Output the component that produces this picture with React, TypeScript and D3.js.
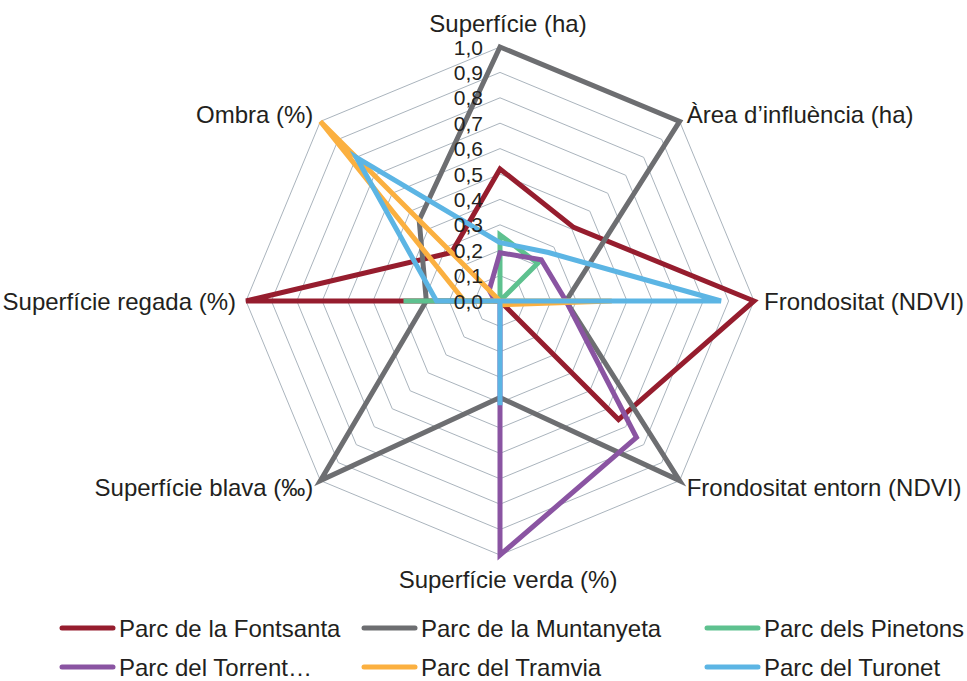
import * as d3 from 'd3';
import React, { useEffect, useRef } from 'react';

const axes = [
  'Superfície (ha)',
  'Àrea d’influència (ha)',
  'Frondositat (NDVI)',
  'Frondositat entorn (NDVI)',
  'Superfície verda (%)',
  'Superfície blava (‰)',
  'Superfície regada (%)',
  'Ombra (%)',
];

const seriesNames = [
  'Parc de la Fontsanta',
  'Parc de la Muntanyeta',
  'Parc dels Pinetons',
  'Parc del Torrent…',
  'Parc del Tramvia',
  'Parc del Turonet',
];

const fontsanta = [0.52, 0.41, 1.0, 0.66, 0.0, 0.0, 1.0, 0.27];
const muntanyeta = [1.0, 1.0, 0.26, 1.0, 0.38, 1.0, 0.29, 0.45];
const pinetons = [0.26, 0.21, 0.0, 0.0, 0.0, 0.0, 0.38, 0.0];
const torrent = [0.19, 0.23, 0.26, 0.76, 1.0, 0.0, 0.02, 0.06];
const tramvia = [0.0, 0.0, 0.44, 0.02, 0.0, 0.0, 0.14, 1.0];
const turonet = [0.23, 0.27, 0.87, 0.0, 0.41, 0.0, 0.25, 0.8];

const tickValues = [0, 0.1, 0.2, 0.3, 0.4, 0.5, 0.6, 0.7, 0.8, 0.9, 1.0];
const tickLabels = ['0,0', '0,1', '0,2', '0,3', '0,4', '0,5', '0,6', '0,7', '0,8', '0,9', '1,0'];

const colors = ['#961d2e', '#6d6e71', '#5ec18f', '#8a54a2', '#fbb040', '#5cb5e4'];

const FONT = '"Liberation Sans", Arial, Helvetica, sans-serif';

export default function App() {
  const svgRef = useRef(null);
  const width = 967;
  const height = 681;

  useEffect(() => {
    const svg = d3.select(svgRef.current);
    svg.selectAll('*').remove();

    const cx = 500;
    const cy = 301;
    const R = 254;
    const values = [fontsanta, muntanyeta, pinetons, torrent, tramvia, turonet];

    const r = d3.scaleLinear().domain([0, 1]).range([0, R]);
    const angle = d3
      .scaleLinear()
      .domain([0, axes.length])
      .range([0, 2 * Math.PI]);

    const g = svg.append('g').attr('transform', `translate(${cx},${cy})`);

    const radial = d3
      .lineRadial()
      .angle((d, i) => angle(i))
      .radius((d) => r(d))
      .curve(d3.curveLinearClosed);

    // grid rings
    g.selectAll('.ring')
      .data(tickValues.slice(1))
      .enter()
      .append('path')
      .attr('class', 'ring')
      .attr('d', (v) => radial(axes.map(() => v)))
      .attr('fill', 'none')
      .attr('stroke', '#aab4bd')
      .attr('stroke-width', 1);

    // series
    g.selectAll('.series')
      .data(values)
      .enter()
      .append('path')
      .attr('class', 'series')
      .attr('d', (d) => radial(d))
      .attr('fill', 'none')
      .attr('stroke', (d, i) => colors[i])
      .attr('stroke-width', 5)
      .attr('stroke-linejoin', 'miter')
      .attr('stroke-miterlimit', 6);

    // tick labels
    g.selectAll('.tick')
      .data(tickValues)
      .enter()
      .append('text')
      .attr('class', 'tick')
      .attr('x', -17)
      .attr('y', (v) => -r(v))
      .attr('dy', '0.36em')
      .attr('text-anchor', 'end')
      .attr('font-family', FONT)
      .attr('font-size', 21)
      .attr('fill', '#231f20')
      .text((v, i) => tickLabels[i]);

    // axis labels
    g.selectAll('.axis-label')
      .data(axes)
      .enter()
      .append('text')
      .attr('class', 'axis-label')
      .each(function (name, i) {
        const a = angle(i);
        const s = Math.sin(a);
        const c = Math.cos(a);
        const onVertical = Math.abs(s) < 0.1;
        const dist = onVertical ? R + 24 : R + 10;
        const el = d3.select(this);
        el.attr('x', dist * s + (onVertical ? 8 : 0))
          .attr('y', -dist * c)
          .attr('dy', '0.36em')
          .attr('text-anchor', onVertical ? 'middle' : s > 0 ? 'start' : 'end');
      })
      .attr('font-family', FONT)
      .attr('font-size', 24)
      .attr('fill', '#231f20')
      .text((d) => d);

    // legend
    const legendX = [60, 362, 705];
    const legendY = [628, 667];
    const legend = svg
      .selectAll('.legend')
      .data(seriesNames)
      .enter()
      .append('g')
      .attr('class', 'legend')
      .attr('transform', (d, i) => `translate(${legendX[i % 3]},${legendY[Math.floor(i / 3)]})`);

    legend
      .append('line')
      .attr('x1', 2)
      .attr('x2', 53)
      .attr('y1', 0)
      .attr('y2', 0)
      .attr('stroke', (d, i) => colors[i])
      .attr('stroke-width', 5)
      .attr('stroke-linecap', 'round');

    legend
      .append('text')
      .attr('x', 59)
      .attr('y', 0)
      .attr('dy', '0.36em')
      .attr('font-family', FONT)
      .attr('font-size', 24)
      .attr('fill', '#231f20')
      .text((d) => d);
  }, []);

  return (
    <svg
      ref={svgRef}
      width={width}
      height={height}
      style={{ position: 'absolute', left: 0, top: 0, background: '#fff' }}
    ></svg>
  );
}
